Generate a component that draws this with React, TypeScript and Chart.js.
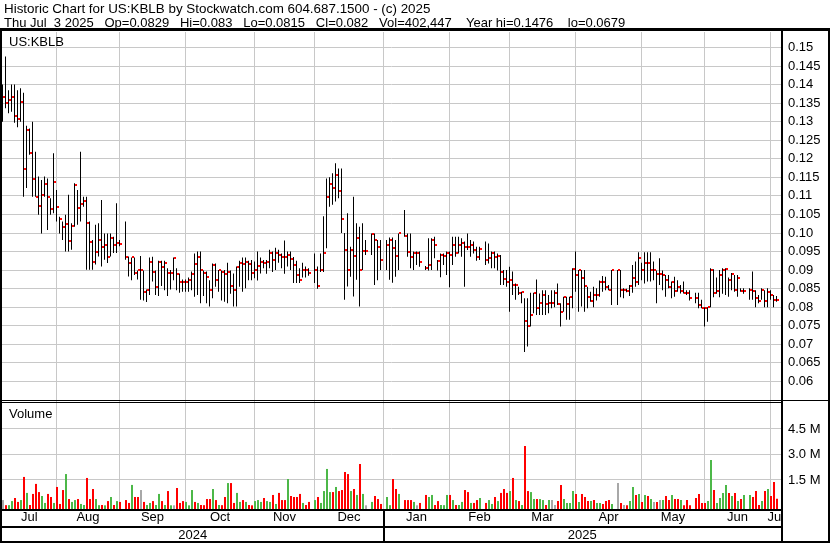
import React, { useEffect, useRef } from "react";
import { Chart, registerables } from "chart.js";

Chart.register(...registerables);

const TITLE_LINE_1 = "Historic Chart for US:KBLB by Stockwatch.com 604.687.1500 - (c) 2025";
const TITLE_LINE_2 = "Thu Jul  3 2025   Op=0.0829   Hi=0.083   Lo=0.0815   Cl=0.082   Vol=402,447    Year hi=0.1476    lo=0.0679";
const SYMBOL = "US:KBLB";
const VOLUME_TITLE = "Volume";

// calendar: x = weekday slot counted from SLOT_ORIGIN
const SLOT_ORIGIN = "2024-07-05";
const FIRST_DAY = "2024-07-08";
const LAST_DAY = "2025-07-03";
const HOLIDAYS = ["2024-09-02", "2024-11-28", "2024-12-25", "2025-01-01", "2025-01-09", "2025-01-20", "2025-02-17", "2025-04-18", "2025-05-26", "2025-06-19"];

const MONTH_STARTS = ["2024-08-01", "2024-09-01", "2024-10-01", "2024-11-01", "2024-12-01", "2025-01-01", "2025-02-01", "2025-03-01", "2025-04-01", "2025-05-01", "2025-06-01", "2025-07-01"];
const MONTH_LABELS = ["Jul", "Aug", "Sep", "Oct", "Nov", "Dec", "Jan", "Feb", "Mar", "Apr", "May", "Jun", "Jul"];
const YEAR_START = "2025-01-01";
const YEAR_LABELS = ["2024", "2025"];

const PRICE_TICKS = [0.06, 0.065, 0.07, 0.075, 0.08, 0.085, 0.09, 0.095, 0.1, 0.105, 0.11, 0.115, 0.12, 0.125, 0.13, 0.135, 0.14, 0.145, 0.15];
const PRICE_TICK_LABELS = ["0.06", "0.065", "0.07", "0.075", "0.08", "0.085", "0.09", "0.095", "0.10", "0.105", "0.11", "0.115", "0.12", "0.125", "0.13", "0.135", "0.14", "0.145", "0.15"];
const VOLUME_TICKS = [1.5, 3.0, 4.5];
const VOLUME_TICK_LABELS = ["1.5 M", "3.0 M", "4.5 M"];

const X_RANGE = [0.8333, 260.5];
const PRICE_RANGE = [0.05472, 0.15418];
const VOLUME_RANGE = [-0.206, 6.147];

// one entry per trading day, by month
const HIGH = [
  .1400, .1476, .1385, .1400, .1400, .1385, .1390, .1378, .1289, .1282, .1300, .1219, .1152, .1143, .1152, .1147, .1094, .1215,
  .1116, .1044, .1031, .1049, .1103, .1026, .1134, .1116, .1219, .1098, .1098, .1031, .0981, .1022, .1026, .1089, .0999, .0999, .0999, .0990, .1080, .0981,
  .1031, .0937, .0934, .0934, .0899, .0938, .0899, .0848, .0934, .0936, .0899, .0925, .0925, .0925, .0905, .0900, .0934, .0905, .0891, .0875,
  .0875, .0880, .0896, .0945, .0950, .0950, .0899, .0896, .0873, .0918, .0918, .0900, .0899, .0900, .0920, .0899, .0891, .0910, .0925, .0934, .0934, .0925, .0927,
  .0923, .0950, .0934, .0927, .0927, .0955, .0950, .0960, .0955, .0945, .0980, .0950, .0950, .0935, .0925, .0905, .0920, .0910, .0905, .0945,
  .0910, .0945, .1045, .1147, .1150, .1161, .1188, .1174, .1174, .1000, .1053, .0963, .1098, .1026, .1017, .1026, .0981, .0999, .0999, .0981, .0981,
  .0981, .0988, .0988, .0981, .0999, .1062, .0999, .0999, .0950, .0950, .0950, .0911, .0986, .0986, .0990, .0927, .0945, .0945, .0950, .0950,
  .0990, .0990, .0990, .0986, .0977, .0999, .0981, .0977, .0963, .0963, .0977, .0972, .0950, .0950, .0945, .0941, .0900, .0900, .0909,
  .0896, .0864, .0855, .0842, .0824, .0824, .0839, .0839, .0875, .0837, .0846, .0846, .0833, .0846, .0846, .0864, .0811, .0828, .0828, .0828, .0905,
  .0950, .0900, .0900, .0900, .0855, .0842, .0855, .0851, .0872, .0884, .0882, .0860, .0900, .0900, .0900, .0851, .0850, .0860, .0914, .0923, .0948,
  .0920, .0948, .0948, .0948, .0923, .0899, .0932, .0899, .0887, .0887, .0869, .0882, .0873, .0860, .0869, .0846, .0846, .0839, .0839, .0820, .0800,
  .0800, .0905, .0902, .0880, .0900, .0905, .0905, .0880, .0892, .0887, .0887, .0851, .0851, .0851, .0896, .0846, .0833, .0851, .0846, .0851,
  .0846, .0833, .0830,
];
const LOW = [
  .1300, .1336, .1323, .1327, .1297, .1285, .1300, .1098, .1121, .1211, .1098, .1098, .1049, .0999, .1098, .1008, .1049, .1053,
  .1031, .0999, .0981, .0950, .0950, .0955, .1017, .1022, .1031, .1071, .0901, .0901, .0901, .0915, .0937, .0910, .0928, .0919, .0937, .0946, .0946, .0964,
  .0928, .0883, .0873, .0887, .0875, .0820, .0818, .0814, .0833, .0869, .0833, .0830, .0857, .0846, .0830, .0848, .0873, .0846, .0839, .0842,
  .0842, .0842, .0846, .0828, .0833, .0811, .0830, .0811, .0802, .0824, .0855, .0842, .0818, .0815, .0811, .0836, .0802, .0802, .0855, .0842, .0851, .0873, .0873,
  .0878, .0872, .0891, .0905, .0890, .0905, .0895, .0900, .0920, .0905, .0890, .0910, .0900, .0865, .0865, .0865, .0880, .0880, .0885, .0865,
  .0850, .0895, .0895, .0959, .1071, .1076, .1085, .1094, .1000, .0820, .0856, .0882, .0829, .0874, .0802, .0900, .0941, .0941, .0860, .0873, .0900,
  .0900, .0874, .0866, .0882, .0900, .0990, .0936, .0905, .0900, .0914, .0909, .0900, .0899, .0900, .0932, .0899, .0881, .0914, .0887, .0854,
  .0914, .0936, .0945, .0936, .0855, .0954, .0936, .0945, .0925, .0927, .0914, .0918, .0905, .0905, .0899, .0860, .0860, .0855, .0788,
  .0833, .0820, .0833, .0811, .0679, .0694, .0748, .0784, .0779, .0779, .0779, .0779, .0784, .0797, .0800, .0806, .0748, .0788, .0766, .0766, .0797,
  .0842, .0788, .0802, .0788, .0797, .0815, .0800, .0818, .0828, .0842, .0846, .0846, .0806, .0806, .0827, .0824, .0840, .0830, .0839, .0855, .0860,
  .0873, .0864, .0869, .0869, .0873, .0811, .0860, .0846, .0828, .0851, .0824, .0828, .0842, .0837, .0837, .0833, .0818, .0811, .0797, .0797, .0748,
  .0761, .0800, .0827, .0836, .0827, .0836, .0833, .0828, .0846, .0842, .0828, .0842, .0836, .0820, .0820, .0800, .0811, .0820, .0800, .0800,
  .0820, .0800, .0815,
];
const CLOSE = [
  .1367, .1351, .1359, .1367, .1315, .1308, .1354, .1173, .1278, .1217, .1146, .1098, .1074, .1103, .1132, .1098, .1065, .1138,
  .1071, .1038, .1016, .1023, .0979, .1020, .1130, .1067, .1078, .1086, .1028, .0976, .0923, .0948, .0981, .0962, .0969, .0935, .0987, .0969, .0974, .0971,
  .0935, .0918, .0934, .0893, .0899, .0899, .0842, .0847, .0923, .0896, .0855, .0923, .0909, .0918, .0891, .0893, .0932, .0889, .0869, .0867,
  .0869, .0873, .0890, .0917, .0934, .0899, .0893, .0881, .0846, .0915, .0873, .0899, .0896, .0890, .0895, .0858, .0846, .0909, .0920, .0917, .0923, .0917, .0893,
  .0900, .0911, .0923, .0918, .0922, .0947, .0926, .0947, .0941, .0936, .0936, .0941, .0929, .0915, .0887, .0872, .0899, .0899, .0893, .0899,
  .0858, .0899, .0947, .1098, .1132, .1120, .1157, .1113, .1039, .0954, .0899, .0954, .0938, .0987, .0899, .0952, .0952, .0997, .0982, .0963, .0926,
  .0968, .0980, .0960, .0938, .0999, .0993, .0950, .0934, .0947, .0947, .0923, .0907, .0914, .0982, .0969, .0925, .0942, .0938, .0947, .0942,
  .0969, .0947, .0969, .0974, .0963, .0963, .0969, .0954, .0936, .0958, .0927, .0933, .0947, .0934, .0938, .0896, .0876, .0869, .0873,
  .0860, .0860, .0837, .0842, .0764, .0749, .0779, .0839, .0799, .0811, .0833, .0809, .0812, .0812, .0839, .0809, .0788, .0827, .0809, .0827, .0903,
  .0887, .0899, .0878, .0857, .0827, .0818, .0833, .0833, .0868, .0868, .0855, .0846, .0899, .0899, .0846, .0846, .0845, .0857, .0878, .0869, .0932,
  .0899, .0918, .0918, .0899, .0899, .0889, .0889, .0887, .0873, .0855, .0869, .0845, .0855, .0843, .0839, .0839, .0824, .0824, .0806, .0797, .0797,
  .0800, .0900, .0839, .0845, .0887, .0899, .0902, .0873, .0889, .0846, .0878, .0845, .0844, .0846, .0845, .0824, .0817, .0846, .0818, .0842,
  .0833, .0820, .0820,
];
// volume in millions of shares
const VOLUME = [
  .32, .02, .02, .26, .44, .21, .32, 1.68, .74, .03, .68, 1.27, .79, .56, .15, .68, .50, .15,
  1.09, .09, .91, 1.85, .38, .21, .32, .38, .09, .03, 1.62, .38, .97, .38, .02, .03, .01, .26, .50, .03, .26, .21,
  .32, .15, 1.21, .50, .50, .91, .21, .03, .15, .26, .03, .68, .26, .03, .85, .01, .01, 1.03, .15, .26,
  .21, .01, .91, .21, .15, .03, .02, .38, .38, .97, .32, .03, .02, .50, 1.32, 1.32, .15, .74, .21, .32, .21, .03, .01,
  .26, .32, .21, .44, .26, .21, .62, .09, .74, .32, .32, 1.56, .56, .50, .50, .68, .15, .03, .21, .32,
  .50, .15, .85, 2.15, .79, .79, 1.09, .85, .91, 1.97, 1.85, .85, .97, .62, 2.44, .68, .01, .21, .56, .38, .09,
  .50, .02, 1.56, .97, .68, .32, .32, .32, .21, .01, .15, .62, .50, .62, .03, .26, .03, .02, .62, .62,
  .32, .03, .03, .21, .91, .79, .15, .15, .32, .44, .15, .32, .09, .50, .26, .74, .97, .74, .85,
  1.62, .32, .26, .03, 3.50, .85, .79, .38, .38, .38, .32, .03, .32, .32, .03, .26, 1.21, .38, .15, .15, .85,
  .68, .21, .68, .50, .26, .26, .32, .15, .15, .09, .26, .32, .09, 1.32, .15, .03, .02, .26, 1.09, .62, .68,
  .21, .62, .56, .38, .21, .21, .32, .32, .56, .32, .62, .38, .38, .32, .02, .32, .02, .44, .68, .15, .15,
  .26, 2.68, .91, .15, .44, .74, 1.21, .74, .56, .74, .26, .38, .62, .62, .50, .85, .03, .26, .85, .97,
  .56, 1.38, .40,
];
// u = up (green), d = down (red), n = unchanged (grey)
const VOL_DIR = [
  "n d u u d d u d u d d d d u u d d u",
  "d d d u d u u d u u d d d u u d u d u d u d",
  "d d u d d n d u u d u u d u d u n d d d",
  "u u u d u d d d d u d u d d u d d u u d u d d",
  "u u u d u u d u d d d u d d d d u d d u",
  "d u u u u d u d d d d u d u d u n u d d d",
  "u u d d u d d d u n d d u u d d u u u d",
  "u d u u d d u d d u d u u d u d d d u",
  "d u d u d d u u d u u d u n n d d u u u u",
  "d u d d d u d u u d d d u n d n d u u d u",
  "d u d u n d n u d d u d d u d d d d d d d",
  "u u d u u u u d u d u d u u d d d u d u",
  "d d d",
].join(" ").split(" ");

const DIR_COLORS: Record<string, string> = { u: "#4cb848", d: "#ff0000", n: "#a8a8a8" };
const GRID = "#c8c8c8";
const FONT = { family: "Arial, 'Liberation Sans', sans-serif", size: 13 };

const DAY_MS = 86400000;
function toUTC(s: string) {
  const [y, m, d] = s.split("-").map(Number);
  return Date.UTC(y, m - 1, d);
}
function isWeekday(t: number) {
  const wd = new Date(t).getUTCDay();
  return wd !== 0 && wd !== 6;
}
// weekday slot of a date; weekend dates fall on the previous Friday's slot
function slotOf(s: string) {
  let slot = -1;
  const end = toUTC(s);
  for (let t = toUTC(SLOT_ORIGIN); t <= end; t += DAY_MS) if (isWeekday(t)) slot++;
  return slot;
}
function tradingSlots() {
  const out: number[] = [];
  const hol = new Set(HOLIDAYS.map(toUTC));
  let slot = slotOf(FIRST_DAY) - 1;
  for (let t = toUTC(FIRST_DAY); t <= toUTC(LAST_DAY); t += DAY_MS) {
    if (!isWeekday(t)) continue;
    slot++;
    if (!hol.has(t)) out.push(slot);
  }
  return out;
}

function makeCloseTick() {
  const c = document.createElement("canvas");
  c.width = 5;
  c.height = 2;
  const g = c.getContext("2d")!;
  g.fillStyle = "#ff0000";
  g.fillRect(3, 0, 2, 2);
  return c;
}

export default function App() {
  const ref = useRef<HTMLCanvasElement>(null);

  useEffect(() => {
    const slots = tradingSlots();
    const gridSlots = MONTH_STARTS.map(slotOf);
    const bounds = [X_RANGE[0], ...gridSlots, X_RANGE[1]];
    const monthMids = MONTH_LABELS.map((_, i) => (bounds[i] + bounds[i + 1]) / 2);
    const yearSlot = slotOf(YEAR_START);
    const yearMids = [(X_RANGE[0] + yearSlot) / 2, (yearSlot + X_RANGE[1]) / 2];

    const framePlugin = {
      id: "frame",
      afterDraw(chart: any) {
        const { ctx, chartArea: a, width, height } = chart;
        ctx.save();
        ctx.fillStyle = "#ffffff";
        ctx.fillRect(a.right + 2, a.bottom, width - a.right - 4, height - a.bottom);
        ctx.fillStyle = "#000000";
        ctx.fillRect(0, a.top - 4, width, 3);
        ctx.fillRect(0, a.top - 1, 2, height - a.top + 1);
        ctx.fillRect(a.right, a.top - 1, 2, height - a.top + 1);
        ctx.fillRect(width - 2, a.top - 1, 2, height - a.top + 1);
        const split = chart.scales.yv.top;
        ctx.fillRect(0, split - 1, width, 1);
        ctx.fillRect(0, split + 1, a.right, 1);
        ctx.fillRect(0, a.bottom, a.right, 2);
        ctx.fillRect(0, chart.scales.xy.top, a.right, 2);
        ctx.fillRect(0, height - 2, width, 2);
        const xd = Math.round(chart.scales.x.getPixelForValue(yearSlot) - 0.5);
        ctx.fillRect(xd, a.bottom + 2, 2, height - a.bottom - 4);
        ctx.restore();
      },
    };

    const chart = new Chart(ref.current!, {
      type: "bar",
      data: {
        datasets: [
          {
            type: "scatter",
            xAxisID: "x",
            yAxisID: "y",
            data: slots.map((s, i) => ({ x: s, y: CLOSE[i] })),
            pointStyle: makeCloseTick() as any,
            pointRadius: 1,
            pointHoverRadius: 1,
            order: 0,
          } as any,
          {
            type: "bar",
            xAxisID: "x",
            yAxisID: "y",
            data: slots.map((s, i) => ({ x: s, y: [LOW[i], HIGH[i]] })),
            backgroundColor: "#000000",
            barThickness: 1,
            grouped: false,
            inflateAmount: 0,
            borderWidth: 0,
            order: 1,
          } as any,
          {
            type: "bar",
            xAxisID: "xv",
            yAxisID: "yv",
            data: slots.map((s, i) => ({ x: s, y: VOLUME[i] })),
            backgroundColor: VOL_DIR.map((d) => DIR_COLORS[d]),
            barThickness: 2,
            grouped: false,
            inflateAmount: 0,
            borderWidth: 0,
            base: VOLUME_RANGE[0],
            order: 2,
          } as any,
        ],
      },
      options: {
        responsive: false,
        animation: false,
        devicePixelRatio: 1,
        events: [],
        layout: { padding: { left: 2, top: 32, right: 0, bottom: 0 } },
        plugins: { legend: { display: false }, tooltip: { enabled: false } },
        scales: {
          x: {
            type: "linear",
            position: "bottom",
            weight: 0,
            offset: false,
            min: X_RANGE[0],
            max: X_RANGE[1],
            afterBuildTicks: (s: any) => { s.ticks = gridSlots.map((v) => ({ value: v })); },
            afterFit: (s: any) => { s.height = 0; },
            ticks: { display: false, autoSkip: false },
            grid: { color: GRID, lineWidth: 1, drawTicks: false, offset: false },
            border: { display: false },
          },
          xm: {
            type: "linear",
            position: "bottom",
            weight: 1,
            offset: false,
            min: X_RANGE[0],
            max: X_RANGE[1],
            afterBuildTicks: (s: any) => { s.ticks = monthMids.map((v) => ({ value: v })); },
            afterFit: (s: any) => { s.height = 17; },
            ticks: { autoSkip: false, maxRotation: 0, padding: 1, color: "#000", font: FONT, callback: (_v: any, i: number) => MONTH_LABELS[i] },
            grid: { display: false, drawTicks: false },
            border: { display: false },
          },
          xy: {
            type: "linear",
            position: "bottom",
            weight: 2,
            offset: false,
            min: X_RANGE[0],
            max: X_RANGE[1],
            afterBuildTicks: (s: any) => { s.ticks = yearMids.map((v) => ({ value: v })); },
            afterFit: (s: any) => { s.height = 17; },
            ticks: { autoSkip: false, maxRotation: 0, padding: 2, color: "#000", font: FONT, callback: (_v: any, i: number) => YEAR_LABELS[i] },
            grid: { display: false, drawTicks: false },
            border: { display: false },
          },
          xv: {
            type: "linear",
            display: false,
            offset: false,
            min: X_RANGE[0] - 1 / 6,
            max: X_RANGE[1] - 1 / 6,
          },
          y: {
            type: "linear",
            position: "right",
            stack: "right",
            stackWeight: 369,
            offset: false,
            min: PRICE_RANGE[0],
            max: PRICE_RANGE[1],
            afterBuildTicks: (s: any) => { s.ticks = PRICE_TICKS.map((v) => ({ value: v })); },
            afterFit: (s: any) => { s.width = 49; },
            ticks: { padding: 7, color: "#000", font: FONT, autoSkip: false, callback: (_v: any, i: number) => PRICE_TICK_LABELS[i] },
            grid: { color: GRID, lineWidth: 1, drawTicks: false },
            border: { display: false },
          },
          yv: {
            type: "linear",
            position: "right",
            stack: "right",
            stackWeight: 108,
            offset: false,
            min: VOLUME_RANGE[0],
            max: VOLUME_RANGE[1],
            afterBuildTicks: (s: any) => { s.ticks = VOLUME_TICKS.map((v) => ({ value: v })); },
            afterFit: (s: any) => { s.width = 49; },
            ticks: { padding: 7, color: "#000", font: FONT, autoSkip: false, callback: (_v: any, i: number) => VOLUME_TICK_LABELS[i] },
            grid: { color: GRID, lineWidth: 1, drawTicks: false },
            border: { display: false },
          },
        },
      } as any,
      plugins: [framePlugin],
    });
    return () => chart.destroy();
  }, []);

  const text: React.CSSProperties = {
    position: "absolute",
    fontFamily: "Arial, 'Liberation Sans', sans-serif",
    fontSize: 13,
    color: "#000",
    whiteSpace: "pre",
  };

  return (
    <div style={{ position: "absolute", left: 0, top: 0, width: 830, height: 543, background: "#fff", overflow: "hidden" }}>
      <canvas ref={ref} width={830} height={543} style={{ position: "absolute", left: 0, top: 0, width: 830, height: 543 }} />
      <div style={{ ...text, left: 4, top: 2, fontSize: 13.4, lineHeight: "13.5px" }}>{TITLE_LINE_1}</div>
      <div style={{ ...text, left: 4, top: 15.5, lineHeight: "13.5px" }}>{TITLE_LINE_2}</div>
      <div style={{ ...text, left: 9, top: 34, lineHeight: "15px" }}>{SYMBOL}</div>
      <div style={{ ...text, left: 9, top: 406, lineHeight: "15px" }}>{VOLUME_TITLE}</div>
    </div>
  );
}
